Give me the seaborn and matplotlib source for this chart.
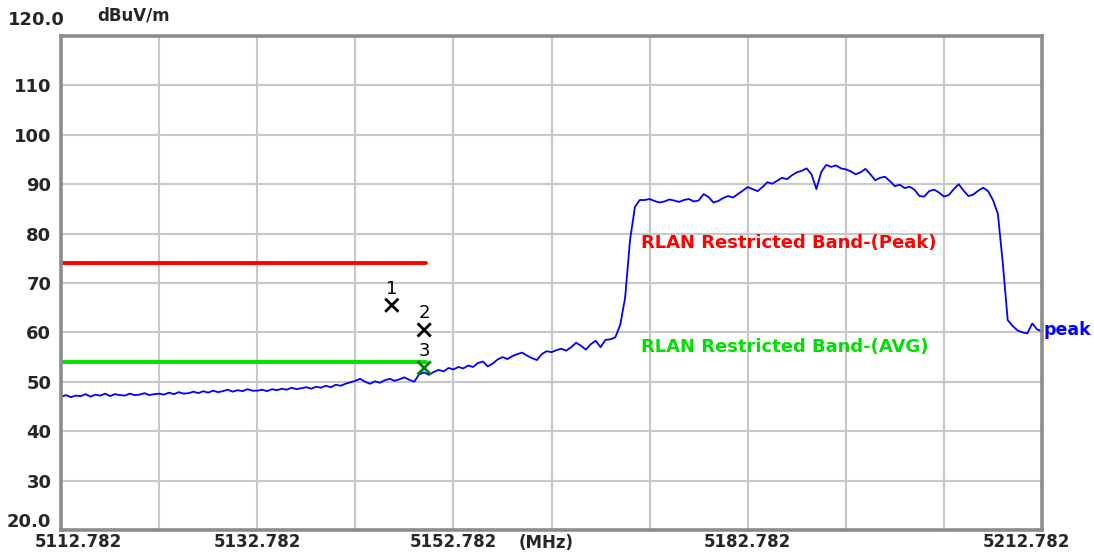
import numpy as np
import pandas as pd
import seaborn as sns
import matplotlib.pyplot as plt
from matplotlib.transforms import ScaledTranslation

# sweep settings (MHz) and trace, 0.5 MHz per point
f_start = 5112.782
f_stop = 5212.782
f_step = 0.5

level_dbuv = [
    47.0, 47.3, 46.9, 47.2, 47.1, 47.5, 47.0, 47.4, 47.2, 47.6, 47.1, 47.5, 47.3, 47.2, 47.6, 47.3, 47.4, 47.7, 47.3, 47.5,
    47.6, 47.4, 47.8, 47.5, 47.9, 47.6, 47.7, 48.0, 47.7, 48.1, 47.8, 48.2, 47.9, 48.1, 48.4, 48.0, 48.3, 48.1, 48.5, 48.2,
    48.2, 48.4, 48.1, 48.5, 48.3, 48.6, 48.4, 48.8, 48.5, 48.7, 48.9, 48.6, 49.0, 48.8, 49.2, 48.9, 49.4, 49.2, 49.6, 49.9,
    50.2, 50.6, 50.0, 49.6, 50.1, 49.8, 50.3, 50.6, 50.2, 50.5, 50.9, 50.4, 50.0, 51.5, 51.9, 51.4, 52.0, 52.4, 52.1, 52.8,
    52.5, 53.0, 52.7, 53.3, 53.0, 53.8, 54.1, 53.1, 53.7, 54.5, 55.0, 54.6, 55.2, 55.6, 55.9, 55.3, 54.8, 54.4, 55.6, 56.2,
    56.0, 56.4, 56.7, 56.3, 57.0, 57.9, 57.3, 56.5, 57.6, 58.3, 57.0,
    58.5, 58.6, 59.0, 61.5, 67.0, 78.7, 85.4, 86.8,
    86.8, 87.0, 86.6, 86.3, 86.5, 86.9, 86.7, 86.4, 86.8, 87.0, 86.5, 86.7, 88.0, 87.4, 86.3, 86.6, 87.2, 87.6, 87.3, 88.0, 88.7,
    89.4, 89.0, 88.6, 89.4, 90.4, 90.1, 90.7, 91.3, 91.0, 91.8, 92.4, 92.7, 93.2, 92.0, 89.0, 92.5, 93.9, 93.5, 93.8, 93.2,
    93.0, 92.6, 92.0, 92.4, 93.1, 92.0, 90.8, 91.3, 91.5, 90.6, 89.6, 89.9, 89.2, 89.5, 88.9, 87.6, 87.5, 88.6, 88.9, 88.3,
    87.5, 87.8, 89.0, 90.0, 88.7, 87.6, 87.9, 88.7, 89.3, 88.6, 86.8, 84.0, 74.0, 62.5, 61.3, 60.4, 60.0, 59.8, 61.8, 60.6, 60.2,
]
freq_mhz = f_start + f_step * np.arange(len(level_dbuv))

# limit lines (restricted band up to 5150 MHz)
band_edge = 5150.0
limit_peak = 74.0
limit_avg = 54.0

# markers
marker_id = ["1", "2", "3"]
marker_freq = [5146.5, 5149.8, 5149.8]
marker_level = [65.5, 60.5, 52.8]

x_ticks = [f_start + 10 * i for i in range(11)]
x_labels = ["5112.782", "", "5132.782", "", "5152.782", "", "", "5182.782", "", "", "5212.782"]
y_ticks = list(range(20, 121, 10))
y_labels = ["20.0", "30", "40", "50", "60", "70", "80", "90", "100", "110", "120.0"]

sns.set_style("white")
plt.rcParams['font.family'] = ['DejaVu Sans']

fig = plt.figure(figsize=(10.94, 5.58), dpi=100)
ax = fig.add_axes([0.0558, 0.0502, 0.8967, 0.8853])

trace = pd.DataFrame({'freq': freq_mhz, 'level': level_dbuv})
sns.lineplot(x='freq', y='level', data=trace, color='#0000ff', linewidth=1.3, ax=ax)

sns.lineplot(x=[f_start, band_edge], y=[limit_peak, limit_peak], color='#ff0000', linewidth=2.8, ax=ax)
sns.lineplot(x=[f_start, band_edge], y=[limit_avg, limit_avg], color='#00e000', linewidth=2.8, ax=ax)

mk = pd.DataFrame({'id': marker_id, 'freq': marker_freq, 'level': marker_level})
sns.scatterplot(x='freq', y='level', hue='id', data=mk, marker='x', s=90, linewidth=2,
                palette={'1': 'black', '2': 'black', '3': '#008000'}, legend=False, ax=ax, zorder=5)
for _, r in mk.iterrows():
    ax.annotate(r['id'], (r['freq'], r['level']), xytext=(0, 12), textcoords='offset points',
                ha='center', va='center', fontsize=13, color='black')

ax.text(5171.9, limit_peak + 4, "RLAN Restricted Band-(Peak)", color='#ff0000',
        fontsize=13, fontweight='bold', va='center', ha='left')
ax.text(5171.9, limit_avg + 3, "RLAN Restricted Band-(AVG)", color='#00e000',
        fontsize=13, fontweight='bold', va='center', ha='left')
ax.text(f_stop + 0.1, 60.5, "peak", color='#0000ff', fontsize=12.5, fontweight='bold',
        va='center', ha='left', clip_on=False)

ax.set_xlim(f_start, f_stop)
ax.set_ylim(20, 120)
ax.set_xticks(x_ticks)
ax.set_xticklabels(x_labels, fontsize=12, fontweight='bold')
ax.set_yticks(y_ticks)
ax.set_yticklabels(y_labels, fontsize=13, fontweight='bold')
ax.tick_params(axis='y', length=0, pad=7)
ax.tick_params(axis='x', length=0, pad=2)
ax.set_xlabel("")
ax.set_ylabel("")
ax.grid(True, color='#c8c8c8', linewidth=1.5)
for s in ax.spines.values():
    s.set_color('#8c8c8c')
    s.set_linewidth(2.6)

# nudge edge labels like the analyser software does
xl = ax.get_xticklabels()
xl[0].set_transform(xl[0].get_transform() + ScaledTranslation(0.17, 0, fig.dpi_scale_trans))
xl[-1].set_transform(xl[-1].get_transform() + ScaledTranslation(-0.16, 0, fig.dpi_scale_trans))
yl = ax.get_yticklabels()
yl[0].set_transform(yl[0].get_transform() + ScaledTranslation(0, 0.10, fig.dpi_scale_trans))
yl[-1].set_transform(yl[-1].get_transform() + ScaledTranslation(0.13, 0.18, fig.dpi_scale_trans))

fig.text(97 / 1094, 1 - 16 / 558, "dBuV/m", fontsize=12, fontweight='bold', ha='left', va='center')
ax.text(0.494, -0.026, "(MHz)", transform=ax.transAxes, fontsize=12, fontweight='bold',
        ha='center', va='center')

fig.savefig("out.png", dpi=100)
